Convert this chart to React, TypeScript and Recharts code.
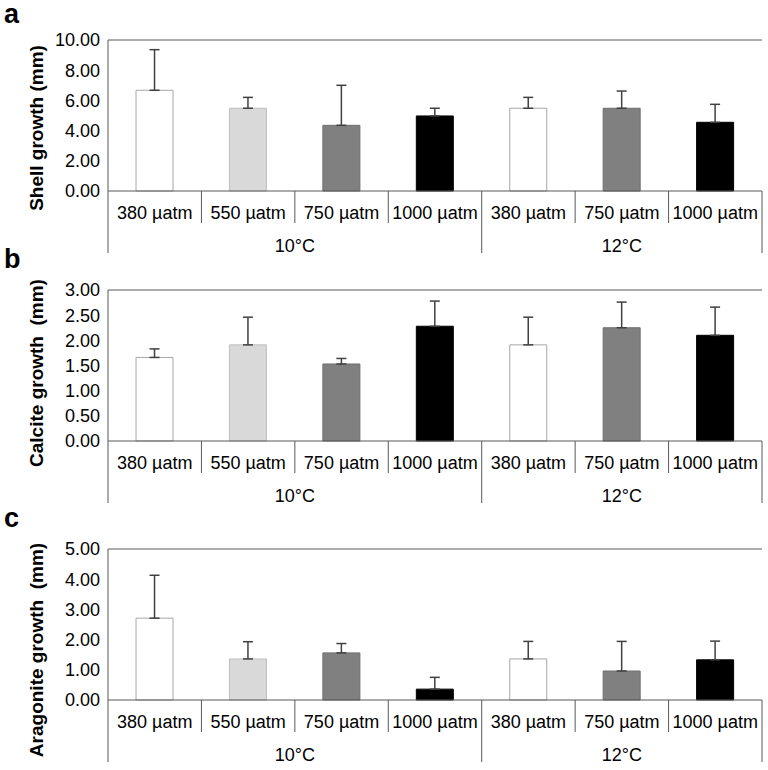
import React from "react";
import { Bar, BarChart, Cell, ErrorBar, ReferenceLine, XAxis, YAxis } from "recharts";

const co2Labels = ["380 µatm", "550 µatm", "750 µatm", "1000 µatm", "380 µatm", "750 µatm", "1000 µatm"];
const tempGroups = ["10°C", "12°C"];
const tempGroupSizes = [4, 3];

const shellMean = [6.67, 5.48, 4.35, 4.97, 5.48, 5.48, 4.55];
const shellSd = [2.69, 0.72, 2.65, 0.51, 0.72, 1.14, 1.19];
const shellTicks = [0, 2, 4, 6, 8, 10];

const calciteMean = [1.66, 1.91, 1.53, 2.28, 1.91, 2.25, 2.1];
const calciteSd = [0.17, 0.55, 0.11, 0.5, 0.55, 0.51, 0.56];
const calciteTicks = [0, 0.5, 1, 1.5, 2, 2.5, 3];

const aragoniteMean = [2.71, 1.36, 1.56, 0.36, 1.36, 0.96, 1.33];
const aragoniteSd = [1.42, 0.57, 0.31, 0.39, 0.58, 0.98, 0.62];
const aragoniteTicks = [0, 1, 2, 3, 4, 5];

const panelLetters = ["a", "b", "c"];
const panelTitles = ["Shell growth (mm)", "Calcite growth  (mm)", "Aragonite growth  (mm)"];

const barFills = ["#ffffff", "#d9d9d9", "#808080", "#000000", "#ffffff", "#808080", "#000000"];
const barStrokes = ["#a6a6a6", "#bfbfbf", "#6e6e6e", "#000000", "#a6a6a6", "#6e6e6e", "#000000"];

const FONT = '"Liberation Sans", Arial, sans-serif';
const AXIS = "#595959";

// index of the first category in each temperature group
const groupStarts = tempGroupSizes.map((_, g) => tempGroupSizes.slice(0, g).reduce((a, b) => a + b, 0));

function CategoryTick(props: any) {
  const { x, y, payload, width, visibleTicksCount } = props;
  const i: number = payload.index;
  const half: number = payload.offset ?? width / (2 * visibleTicksCount);
  const left = x - half;
  const g = groupStarts.indexOf(i);
  const isLast = i === co2Labels.length - 1;
  return (
    <g>
      <line x1={left} y1={y} x2={left} y2={y + (g >= 0 ? 62 : 32)} stroke={AXIS} />
      {isLast && <line x1={x + half} y1={y} x2={x + half} y2={y + 62} stroke={AXIS} />}
      <text x={x} y={y + 22} textAnchor="middle" dominantBaseline="central" fontSize={18} fontFamily={FONT} fill="#000">
        {co2Labels[i]}
      </text>
      {g >= 0 && (
        <text
          x={left + tempGroupSizes[g] * half}
          y={y + 55}
          textAnchor="middle"
          dominantBaseline="central"
          fontSize={18}
          fontFamily={FONT}
          fill="#000"
        >
          {tempGroups[g]}
        </text>
      )}
    </g>
  );
}

type PanelProps = {
  top: number;
  means: number[];
  sds: number[];
  ticks: number[];
};

function Panel({ top, means, sds, ticks }: PanelProps) {
  const data = means.map((m, i) => ({ key: String(i), value: m, err: [0, sds[i]] }));
  const yMax = ticks[ticks.length - 1];
  return (
    <div style={{ position: "absolute", left: 0, top, width: 768, height: 258 }}>
      <BarChart
        width={768}
        height={258}
        data={data}
        margin={{ top: 40, right: 6, left: 48, bottom: 0 }}
        barCategoryGap="30%"
      >
        <XAxis
          dataKey="key"
          interval={0}
          axisLine={{ stroke: AXIS }}
          tickLine={false}
          tickSize={0}
          tickMargin={0}
          height={67}
          tick={(p: any) => <CategoryTick {...p} />}
        />
        <YAxis
          domain={[0, yMax]}
          ticks={ticks}
          width={60}
          axisLine={{ stroke: AXIS }}
          tickLine={false}
          tickSize={0}
          tickMargin={8}
          tickFormatter={(v: number) => v.toFixed(2)}
          tick={{ fontSize: 18, fontFamily: FONT, fill: "#000" }}
          interval={0}
        />
        <YAxis
          yAxisId="r"
          orientation="right"
          domain={[0, yMax]}
          width={0}
          tick={false}
          tickLine={false}
          axisLine={{ stroke: AXIS }}
        />
        <ReferenceLine y={yMax} stroke={AXIS} />
        <Bar dataKey="value" isAnimationActive={false}>
          {data.map((d, i) => (
            <Cell key={d.key} fill={barFills[i]} stroke={barStrokes[i]} strokeWidth={1} />
          ))}
          <ErrorBar dataKey="err" width={5} stroke="#404040" strokeWidth={1.5} isAnimationActive={false} />
        </Bar>
      </BarChart>
    </div>
  );
}

const panelTops = [0, 250, 509];
const letterYs = [23, 268, 527];
const titleYs = [128, 373, 650];

export default function App() {
  return (
    <div style={{ position: "absolute", left: 0, top: 0, width: 768, height: 770, background: "#fff" }}>
      <Panel top={panelTops[0]} means={shellMean} sds={shellSd} ticks={shellTicks} />
      <Panel top={panelTops[1]} means={calciteMean} sds={calciteSd} ticks={calciteTicks} />
      <Panel top={panelTops[2]} means={aragoniteMean} sds={aragoniteSd} ticks={aragoniteTicks} />
      <svg width={768} height={770} style={{ position: "absolute", left: 0, top: 0, pointerEvents: "none" }}>
        {panelLetters.map((l, k) => (
          <text key={l} x={4} y={letterYs[k]} fontSize={27} fontWeight="bold" fontFamily={FONT} fill="#000">
            {l}
          </text>
        ))}
        {panelTitles.map((t, k) => (
          <text
            key={t}
            x={43}
            y={titleYs[k]}
            transform={`rotate(-90 43 ${titleYs[k]})`}
            textAnchor="middle"
            fontSize={19}
            fontWeight="bold"
            fontFamily={FONT}
            fill="#000"
            style={{ whiteSpace: "pre" }}
          >
            {t}
          </text>
        ))}
      </svg>
    </div>
  );
}
